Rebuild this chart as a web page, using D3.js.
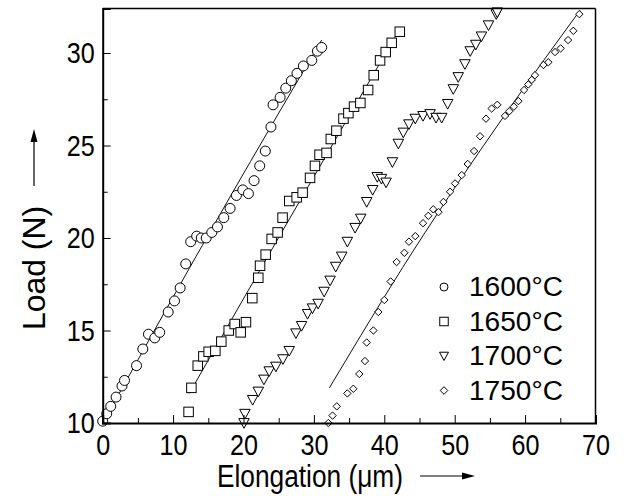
<!DOCTYPE html>
<html>
<head>
<meta charset="utf-8">
<script src="https://cdn.jsdelivr.net/npm/d3@7"></script>
<style>
  html, body { margin: 0; padding: 0; background: #fff; }
  svg { display: block; }
  text { font-family: "Liberation Sans", Arial, Helvetica, sans-serif; fill: #000; }
</style>
</head>
<body>
<svg id="chart" width="624" height="496"></svg>
<script>
// ---------- data ----------
const seriesNames = ["1600°C", "1650°C", "1700°C", "1750°C"];
const xTicks = [0, 10, 20, 30, 40, 50, 60, 70];
const xMinorTicks = [5, 15, 25, 35, 45, 55, 65];
const yTicks = [10, 15, 20, 25, 30];
const yMinorTicks = [12.5, 17.5, 22.5, 27.5];

const s1600 = [[0.0,10.1],[0.57,10.5],[1.14,10.9],[1.9,11.4],[2.74,12.0],[3.1,12.3],[4.8,13.1],[5.7,14.0],
  [6.5,14.8],[7.4,14.6],[8.1,14.9],[9.3,16.0],[10.2,16.6],[11.0,17.3],[11.8,18.6],[12.5,19.8],[13.35,20.1],
  [14.0,20.0],[14.7,20.0],[15.5,20.3],[16.3,20.6],[17.2,21.1],[18.1,21.6],[19.0,22.3],[19.9,22.6],[20.7,22.4],
  [21.5,23.1],[22.3,23.9],[23.1,24.7],[23.9,26.0],[24.2,27.2],[25.2,27.6],[26.0,28.1],[26.8,28.5],[27.6,28.9],
  [28.5,29.3],[29.7,29.6],[30.5,30.1],[31.1,30.3]];
const s1650 = [[12.2,10.6],[12.6,11.9],[13.5,13.1],[14.3,13.6],[15.05,13.85],[16.0,13.9],[16.85,14.4],[17.9,15.0],
  [18.75,15.35],[19.6,14.9],[20.35,15.45],[21.25,16.75],[22.1,17.85],[22.35,18.5],[23.15,19.1],[24.0,19.95],
  [24.85,20.3],[25.55,21.1],[26.5,22.0],[27.55,22.2],[28.4,22.45],[29.45,23.25],[30.15,23.9],[30.8,24.5],
  [31.8,24.6],[32.4,25.35],[33.2,25.8],[34.2,26.45],[34.9,26.75],[35.7,27.1],[36.6,27.3],[37.7,28.0],
  [38.5,28.8],[39.4,29.6],[40.2,30.05],[41.05,30.55],[42.2,31.15]];
const s1700 = [[20.07,10.0],[20.2,10.5],[21.3,11.25],[22.1,11.7],[22.9,12.35],[23.65,12.8],[24.6,13.05],
  [25.6,13.45],[26.5,13.9],[27.45,14.85],[28.25,15.25],[29.1,15.9],[29.8,16.2],[30.6,16.45],[31.45,17.1],
  [32.3,17.7],[33.1,18.45],[33.95,19.0],[34.75,19.8],[35.85,20.55],[36.65,21.05],[37.5,21.95],[38.35,22.6],
  [39.0,23.3],[39.6,23.2],[40.25,23.0],[41.15,24.1],[42.0,25.1],[42.7,25.7],[43.5,26.15],[44.4,26.45],
  [45.5,26.6],[46.5,26.7],[47.35,26.5],[48.15,26.5],[49.0,27.25],[49.8,28.05],[50.5,28.7],[51.45,29.4],
  [52.2,30.1],[53.0,30.45],[53.8,30.9],[54.8,31.5],[55.9,32.1],[56.05,32.2]];
const s1750 = [[32.05,10.0],[32.65,10.4],[33.25,10.9],[34.75,11.6],[35.6,11.85],[36.45,12.65],[37.25,13.35],
  [37.5,14.35],[38.45,15.0],[39.15,16.0],[40.0,16.65],[40.9,17.65],[41.75,18.7],[42.85,19.2],[43.5,19.8],
  [44.4,20.1],[45.5,20.8],[46.25,21.2],[46.95,21.55],[47.7,21.4],[48.4,21.95],[49.35,22.5],[50.05,22.95],
  [51.0,23.4],[51.85,24.0],[52.75,24.7],[53.6,25.5],[54.45,26.45],[55.25,27.0],[56.05,27.2],[57.15,26.6],
  [57.75,26.85],[58.4,27.1],[59.05,27.4],[59.85,28.0],[60.45,28.3],[60.95,28.55],[61.4,28.8],[62.6,29.35],
  [63.3,29.5],[64.25,30.05],[65.05,30.25],[66.1,30.7],[66.85,31.2],[67.7,32.1]];

const fit1600 = [[0.0,10.0],[17.6,21.9],[31.1,30.7]];
const fit1650 = [[12.3,11.6],[24.2,19.5],[41.9,31.1]];
const fit1750 = [[32.2,11.9],[44.1,19.3],[57.4,26.8],[67.8,32.3]];

// ---------- layout ----------
const svg = d3.select("#chart");
const L = 102.7, R = 595.5, T = 8.6, B = 423;
const x = d3.scaleLinear().domain([0, 70]).range([L, R]);
const y = d3.scaleLinear().domain([10, 32.4]).range([B, T]);

// markers
const sym = {
  circle: (g, r) => g.append("circle").attr("r", r),
  square: (g, s) => g.append("rect").attr("x", -s/2).attr("y", -s/2).attr("width", s).attr("height", s),
  triangle: (g, w) => g.append("path").attr("d", `M${-w/2},${-w*0.42}L${w/2},${-w*0.42}L0,${w*0.5}Z`),
  diamond: (g, d) => g.append("path").attr("d", `M0,${-d}L${d},0L0,${d}L${-d},0Z`)
};
const series = [
  {data: s1600, shape: "circle", size: 5, lsize: 4},
  {data: s1650, shape: "square", size: 9.5, lsize: 8.5},
  {data: s1700, shape: "triangle", size: 10.5, lsize: 9},
  {data: s1750, shape: "diamond", size: 3.7, lsize: 3.8}
];

// fit lines
const line = d3.line().x(d => x(d[0])).y(d => y(d[1])).curve(d3.curveMonotoneX);
[fit1600, fit1650, fit1750].forEach(f => {
  svg.append("path").attr("d", line(f)).attr("fill", "none").attr("stroke", "#111").attr("stroke-width", 1);
});

// points
series.forEach(s => {
  const g = svg.append("g");
  s.data.forEach(d => {
    const m = g.append("g").attr("transform", `translate(${x(d[0])},${y(d[1])})`);
    sym[s.shape](m, s.size).attr("fill", "#fff").attr("stroke", "#000").attr("stroke-width", 1);
  });
});

// frame
svg.append("line").attr("x1", L).attr("x2", R).attr("y1", T).attr("y2", T).attr("stroke", "#000").attr("stroke-width", 1.5);
svg.append("line").attr("x1", R).attr("x2", R).attr("y1", T).attr("y2", B).attr("stroke", "#000").attr("stroke-width", 1.5);

// axes
const xAxis = svg.append("g").attr("transform", `translate(0,${B})`)
  .call(d3.axisBottom(x).tickValues(xTicks).tickSize(-8).tickPadding(11).tickFormat(d3.format("d")));
svg.append("g").attr("transform", `translate(0,${B})`)
  .call(d3.axisBottom(x).tickValues(xMinorTicks).tickSize(-5).tickFormat(""))
  .call(g => g.select(".domain").remove());
const yAxis = svg.append("g").attr("transform", `translate(${L},0)`)
  .call(d3.axisLeft(y).tickValues(yTicks).tickSize(-8).tickPadding(8).tickFormat(d3.format("d")));
svg.append("g").attr("transform", `translate(${L},0)`)
  .call(d3.axisLeft(y).tickValues(yMinorTicks).tickSize(-5).tickFormat(""))
  .call(g => g.select(".domain").remove());
svg.selectAll(".tick line").attr("stroke", "#000").attr("stroke-width", 1);
[xAxis, yAxis].forEach(a => {
  a.select(".domain").attr("stroke", "#000").attr("stroke-width", 2);
  a.selectAll("text").attr("font-size", 30).attr("font-family", "'Liberation Sans', Arial, sans-serif")
    .attr("fill", "#000")
    .each(function() {
      d3.select(this).attr("textLength", this.textContent.length * 14).attr("lengthAdjust", "spacingAndGlyphs");
    });
});

// axis titles
svg.append("text").attr("x", 310).attr("y", 487).attr("text-anchor", "middle")
  .attr("font-size", 31).attr("textLength", 186).attr("lengthAdjust", "spacingAndGlyphs")
  .text("Elongation (μm)");
svg.append("text").attr("transform", "translate(45,268) rotate(-90)").attr("text-anchor", "middle")
  .attr("font-size", 31).attr("textLength", 124).attr("lengthAdjust", "spacingAndGlyphs")
  .text("Load (N)");

// arrows
svg.append("line").attr("x1", 420).attr("x2", 464).attr("y1", 476).attr("y2", 476).attr("stroke", "#000").attr("stroke-width", 1.2);
svg.append("path").attr("d", "M475,476L462,472.5L462,479.5Z").attr("fill", "#000");
svg.append("line").attr("x1", 34).attr("x2", 34).attr("y1", 186).attr("y2", 140).attr("stroke", "#000").attr("stroke-width", 1.2);
svg.append("path").attr("d", "M34,129L30.5,142L37.5,142Z").attr("fill", "#000");

// legend
const legY = [287, 321.5, 356, 390.5];
series.forEach((s, i) => {
  const m = svg.append("g").attr("transform", `translate(444,${legY[i]})`);
  sym[s.shape](m, s.lsize).attr("fill", "#fff").attr("stroke", "#000").attr("stroke-width", 1);
  svg.append("text").attr("x", 469).attr("y", legY[i] + 9).attr("font-size", 27)
    .attr("textLength", 94).attr("lengthAdjust", "spacingAndGlyphs").text(seriesNames[i]);
});
</script>
</body>
</html>
